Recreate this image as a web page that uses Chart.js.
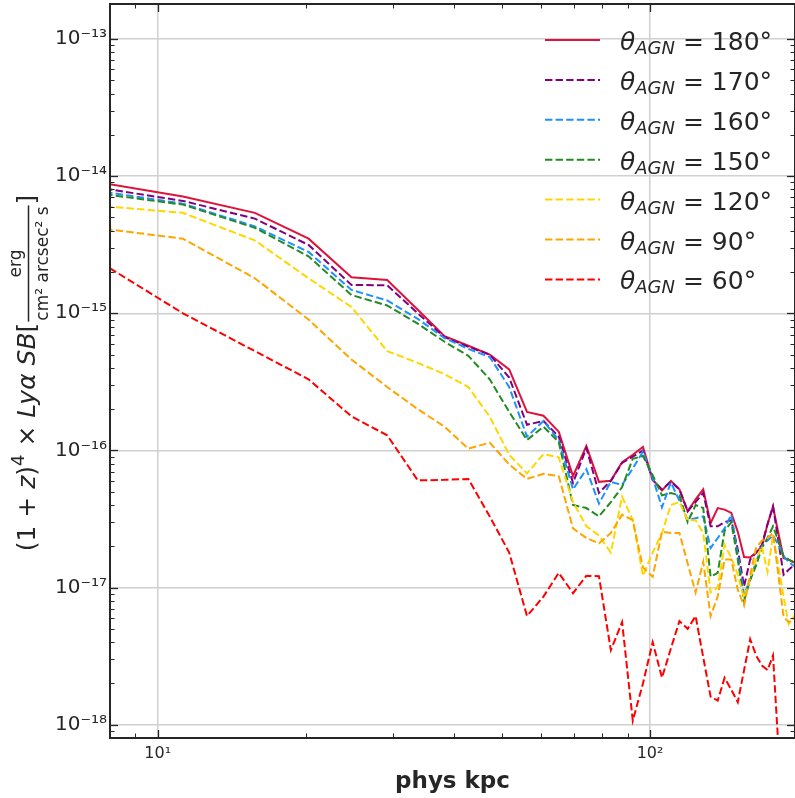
<!DOCTYPE html>
<html>
<head>
<meta charset="utf-8">
<script src="https://cdn.jsdelivr.net/npm/chart.js@4.4.1/dist/chart.umd.min.js"></script>
<style>
  html, body { margin: 0; padding: 0; background: #fff; }
  #wrap { width: 795px; height: 798px; }
</style>
</head>
<body>
<div id="wrap"><canvas id="sbChart"></canvas></div>
<script>
// radial bins, phys kpc
const radius = [6.75, 11.25, 15.75, 20.25, 24.75, 29.25, 33.75, 38.25, 42.75, 47.25,
  51.75, 56.25, 60.75, 65.25, 69.75, 74.25, 78.75, 83.25, 87.75, 92.25,
  96.75, 101.25, 105.75, 110.25, 114.75, 119.25, 123.75, 128.25, 132.75, 137.25,
  141.75, 146.25, 150.75, 155.25, 159.75, 164.25, 168.75, 173.25, 177.75, 182.25,
  186.75, 191.25, 195.75, 200.25];

// (1+z)^4 * Lya SB profiles, erg / cm^2 / arcsec^2 / s
const sb180 = [9.7e-15, 7.1e-15, 5.4e-15, 3.5e-15, 1.83e-15, 1.75e-15, 1.06e-15, 6.8e-16, 5.8e-16, 5.0e-16,
  3.9e-16, 1.91e-16, 1.79e-16, 1.37e-16, 6.5e-17, 1.08e-16, 5.9e-17, 6.0e-17, 8.2e-17, 9.3e-17,
  1.06e-16, 6.1e-17, 5.1e-17, 6.0e-17, 5.2e-17, 3.6e-17, 4.4e-17, 5.2e-17, 2.95e-17, 3.8e-17,
  3.7e-17, 3.5e-17, 2.55e-17, 1.67e-17, 1.66e-17, 1.8e-17, 2.0e-17, 2.9e-17, 3.9e-17, 2.5e-17,
  1.64e-17, 1.6e-17, 1.53e-17, 1.5e-17];
const sb170 = [8.8e-15, 6.6e-15, 4.9e-15, 3.15e-15, 1.61e-15, 1.6e-15, 1.0e-15, 6.7e-16, 5.7e-16, 5.0e-16,
  3.4e-16, 1.54e-16, 1.64e-16, 1.26e-16, 5.8e-17, 1.04e-16, 4.9e-17, 6.0e-17, 8.1e-17, 9.0e-17,
  1.0e-16, 6.1e-17, 5.2e-17, 5.9e-17, 5.2e-17, 3.6e-17, 4.2e-17, 4.9e-17, 2.8e-17, 2.8e-17,
  3.0e-17, 3.1e-17, 1.9e-17, 1.02e-17, 1.6e-17, 1.8e-17, 2.05e-17, 2.9e-17, 3.9e-17, 2.2e-17,
  1.24e-17, 1.35e-17, 1.45e-17, 1.45e-17];
const sb160 = [8.3e-15, 6.3e-15, 4.3e-15, 2.8e-15, 1.48e-15, 1.24e-15, 9.1e-16, 6.6e-16, 5.5e-16, 4.8e-16,
  2.9e-16, 1.26e-16, 1.64e-16, 1.19e-16, 5.2e-17, 7.3e-17, 4.1e-17, 5.9e-17, 5.6e-17, 7.4e-17,
  9.8e-17, 6.3e-17, 3.85e-17, 5.85e-17, 4.3e-17, 3.1e-17, 3.2e-17, 3.3e-17, 1.94e-17, 2.3e-17,
  2.7e-17, 3.4e-17, 1.73e-17, 8.9e-18, 1.14e-17, 1.54e-17, 2.0e-17, 2.2e-17, 2.4e-17, 2.05e-17,
  1.7e-17, 1.54e-17, 1.44e-17, 1.42e-17];
const sb150 = [7.9e-15, 6.2e-15, 4.2e-15, 2.6e-15, 1.36e-15, 1.14e-15, 8.4e-16, 6.2e-16, 4.9e-16, 3.3e-16,
  1.91e-16, 1.19e-16, 1.49e-16, 1.15e-16, 4.0e-17, 3.8e-17, 3.3e-17, 4.2e-17, 5.4e-17, 8.7e-17,
  9.1e-17, 6.6e-17, 4.7e-17, 4.9e-17, 4.7e-17, 3.0e-17, 4.0e-17, 3.8e-17, 1.2e-17, 1.28e-17,
  2.6e-17, 3.0e-17, 1.6e-17, 8.0e-18, 1.14e-17, 1.45e-17, 1.95e-17, 2.3e-17, 2.8e-17, 2.2e-17,
  1.7e-17, 1.6e-17, 1.53e-17, 1.45e-17];
const sb120 = [6.3e-15, 5.4e-15, 3.4e-15, 1.8e-15, 1.11e-15, 5.3e-16, 4.35e-16, 3.6e-16, 2.9e-16, 1.76e-16,
  9.3e-17, 6.8e-17, 9.4e-17, 8.9e-17, 4.2e-17, 2.8e-17, 2.4e-17, 1.8e-17, 4.6e-17, 3.1e-17,
  1.22e-17, 1.8e-17, 2.5e-17, 4.0e-17, 4.2e-17, 3.1e-17, 3.1e-17, 2.5e-17, 9.2e-18, 1.0e-17,
  2.05e-17, 1.65e-17, 1.24e-17, 8.4e-18, 1.18e-17, 1.6e-17, 2.0e-17, 1.3e-17, 2.4e-17, 1.44e-17,
  8.6e-18, 5.4e-18, 6.1e-18, 6.9e-18];
const sb90 = [4.4e-15, 3.5e-15, 1.8e-15, 9.0e-16, 4.6e-16, 2.9e-16, 2.0e-16, 1.49e-16, 1.03e-16, 1.14e-16,
  7.9e-17, 6.2e-17, 6.75e-17, 6.5e-17, 2.7e-17, 2.3e-17, 2.1e-17, 2.5e-17, 3.4e-17, 3.1e-17,
  1.4e-17, 1.2e-17, 2.55e-17, 2.5e-17, 2.5e-17, 1.5e-17, 9.2e-18, 1.54e-17, 6.2e-18, 8.6e-18,
  1.6e-17, 1.6e-17, 9.6e-18, 7.4e-18, 1.24e-17, 1.95e-17, 2.2e-17, 2.3e-17, 2.5e-17, 1.24e-17,
  6.1e-18, 5.6e-18, 5.8e-18, 6.3e-18];
const sb60 = [3.1e-15, 1.0e-15, 5.3e-16, 3.3e-16, 1.77e-16, 1.29e-16, 6.05e-17, 6.1e-17, 6.2e-17, 3.3e-17,
  1.8e-17, 6.2e-18, 8.6e-18, 1.28e-17, 9.1e-18, 1.22e-17, 1.21e-17, 3.5e-18, 5.6e-18, 1.07e-18,
  2.0e-18, 4.0e-18, 2.2e-18, 3.6e-18, 5.7e-18, 5.0e-18, 6.2e-18, 3.1e-18, 1.6e-18, 1.5e-18,
  2.2e-18, 1.8e-18, 1.46e-18, 2.5e-18, 4.2e-18, 3.2e-18, 2.7e-18, 2.5e-18, 3.2e-18, 7.0e-19,
  null, null, null, null];

const agnAngles = [180, 170, 160, 150, 120, 90, 60];
const profiles = [sb180, sb170, sb160, sb150, sb120, sb90, sb60];
const lineColors = ['#DC143C', '#800080', '#1E90FF', '#228B22', '#FFD700', '#FFA500', '#FF0000'];

const xTickValues = [10, 100];
const xTickLabels = ['10¹', '10²'];
const yTickValues = [1e-18, 1e-17, 1e-16, 1e-15, 1e-14, 1e-13];
const yTickLabels = ['10⁻¹⁸', '10⁻¹⁷', '10⁻¹⁶', '10⁻¹⁵', '10⁻¹⁴', '10⁻¹³'];

const textColor = '#262626';
const dashPattern = [7.4, 3.2];

const datasets = profiles.map((vals, k) => ({
  label: 'θAGN = ' + agnAngles[k] + '°',
  data: radius.map((r, i) => ({ x: r, y: vals[i] })),
  borderColor: lineColors[k],
  backgroundColor: lineColors[k],
  borderWidth: 2,
  borderDash: k === 0 ? [] : dashPattern,
  pointRadius: 0,
  tension: 0,
  fill: false,
  order: profiles.length - 1 - k, // later curves on top, like matplotlib
}));

// inward tick marks on all four sides plus the frame
const frameTicks = {
  id: 'frameTicks',
  afterDraw(chart) {
    const { ctx, chartArea: a, scales: { x, y } } = chart;
    ctx.save();
    ctx.strokeStyle = textColor;
    const tick = (x1, y1, x2, y2, w) => {
      ctx.lineWidth = w;
      ctx.beginPath(); ctx.moveTo(x1, y1); ctx.lineTo(x2, y2); ctx.stroke();
    };
    for (let d = 0; d <= 3; d++) {
      for (let m = 1; m <= 9; m++) {
        const v = m * Math.pow(10, d);
        if (v < x.min || v > x.max) continue;
        const px = Math.round(x.getPixelForValue(v)) + 0.5;
        const len = m === 1 ? 8 : 4.5;
        tick(px, a.bottom, px, a.bottom - len, m === 1 ? 1.3 : 1);
        tick(px, a.top, px, a.top + len, m === 1 ? 1.3 : 1);
      }
    }
    for (let d = -19; d <= -13; d++) {
      for (let m = 1; m <= 9; m++) {
        const v = m * Math.pow(10, d);
        if (v < y.min || v > y.max) continue;
        const py = Math.round(y.getPixelForValue(v)) + 0.5;
        const len = m === 1 ? 8 : 4.5;
        tick(a.left, py, a.left + len, py, m === 1 ? 1.3 : 1);
        tick(a.right, py, a.right - len, py, m === 1 ? 1.3 : 1);
      }
    }
    ctx.lineWidth = 2;
    ctx.strokeRect(a.left, a.top, a.right - a.left, a.bottom - a.top);
    ctx.restore();
  }
};

// y axis title with a stacked fraction for the units
const yTitle = {
  id: 'yTitle',
  afterDraw(chart) {
    const ctx = chart.ctx;
    const up = '25px "DejaVu Sans"';
    const it = 'italic 25px "DejaVu Sans"';
    const sup = '18px "DejaVu Sans"';
    const small = '17px "DejaVu Sans"';
    const parts = [
      { t: '(1', f: up }, { t: ' + ', f: up }, { t: 'z', f: it }, { t: ')', f: up },
      { t: '4', f: sup, dy: -11 }, { t: ' × ', f: up }, { t: 'Lyα', f: it }, { t: ' ', f: up },
      { t: 'SB', f: it }, { t: '[', f: up }, { frac: true }, { t: ']', f: up },
    ];
    const num = 'erg';
    const den = 'cm² arcsec² s';
    ctx.save();
    ctx.font = small;
    const fracW = Math.max(ctx.measureText(num).width, ctx.measureText(den).width) + 4;
    let total = 0;
    parts.forEach((p) => {
      if (p.frac) { p.w = fracW; } else { ctx.font = p.f; p.w = ctx.measureText(p.t).width; }
      total += p.w;
    });
    ctx.translate(35, 373);
    ctx.rotate(-Math.PI / 2);
    ctx.fillStyle = textColor;
    ctx.strokeStyle = textColor;
    ctx.textBaseline = 'alphabetic';
    let u = -total / 2;
    parts.forEach((p) => {
      if (p.frac) {
        ctx.font = small;
        ctx.textAlign = 'center';
        ctx.fillText(num, u + p.w / 2, -14);
        ctx.fillText(den, u + p.w / 2, 13);
        ctx.lineWidth = 1.5;
        ctx.beginPath(); ctx.moveTo(u + 1, -6.5); ctx.lineTo(u + p.w - 1, -6.5); ctx.stroke();
        ctx.textAlign = 'left';
      } else {
        ctx.font = p.f;
        ctx.fillText(p.t, u, p.dy || 0);
      }
      u += p.w;
    });
    ctx.restore();
  }
};

// legend drawn inside the axes, top right, no frame
const angleLegend = {
  id: 'angleLegend',
  afterDraw(chart) {
    const ctx = chart.ctx;
    chart.data.datasets.forEach((ds, k) => {
      const y = 40 + k * 39.9;
      ctx.save();
      ctx.strokeStyle = ds.borderColor;
      ctx.lineWidth = 2;
      ctx.setLineDash(ds.borderDash);
      ctx.beginPath(); ctx.moveTo(545, y); ctx.lineTo(600, y); ctx.stroke();
      ctx.setLineDash([]);
      ctx.fillStyle = textColor;
      ctx.textBaseline = 'alphabetic';
      let x = 620;
      ctx.font = 'italic 25px "DejaVu Sans"';
      ctx.fillText('θ', x, y + 10);
      x += ctx.measureText('θ').width;
      ctx.font = 'italic 18px "DejaVu Sans"';
      ctx.fillText('AGN', x, y + 14);
      x += ctx.measureText('AGN').width;
      ctx.font = '25px "DejaVu Sans"';
      ctx.fillText(' = ' + agnAngles[k] + '°', x, y + 10);
      ctx.restore();
    });
  }
};

new Chart(document.getElementById('sbChart'), {
  type: 'line',
  data: { datasets },
  options: {
    responsive: true,
    maintainAspectRatio: false,
    animation: false,
    events: [],
    layout: { padding: { top: 4, right: 0, left: 0, bottom: 0 } },
    plugins: { legend: { display: false }, tooltip: { enabled: false } },
    scales: {
      x: {
        type: 'logarithmic',
        min: 8,
        max: 197,
        afterBuildTicks: (scale) => { scale.ticks = xTickValues.map((v) => ({ value: v })); },
        afterFit: (scale) => { scale.height = 60; scale.paddingLeft = 0; scale.paddingRight = 0; },
        grid: { color: '#d0d0d0', lineWidth: 1.5, drawTicks: false },
        border: { display: false },
        ticks: {
          autoSkip: false,
          maxRotation: 0,
          padding: 6,
          color: textColor,
          font: { family: 'DejaVu Sans', size: 16 },
          callback: (v) => { const i = xTickValues.indexOf(v); return i >= 0 ? xTickLabels[i] : ''; },
        },
        title: {
          display: true,
          text: 'phys kpc',
          color: textColor,
          font: { family: 'DejaVu Sans', size: 23, weight: 'bold' },
          padding: { top: 0, bottom: 2 },
        },
      },
      y: {
        type: 'logarithmic',
        min: 8e-19,
        max: 1.8e-13,
        afterBuildTicks: (scale) => { scale.ticks = yTickValues.map((v) => ({ value: v })); },
        afterFit: (scale) => { scale.width = 110; scale.paddingTop = 0; scale.paddingBottom = 0; },
        grid: { color: '#d0d0d0', lineWidth: 1.5, drawTicks: false },
        border: { display: false },
        ticks: {
          autoSkip: false,
          padding: 3,
          color: textColor,
          font: { family: 'DejaVu Sans', size: 20 },
          callback: (v) => { const i = yTickValues.indexOf(v); return i >= 0 ? yTickLabels[i] : ''; },
        },
      },
    },
  },
  plugins: [frameTicks, yTitle, angleLegend],
});
</script>
</body>
</html>
